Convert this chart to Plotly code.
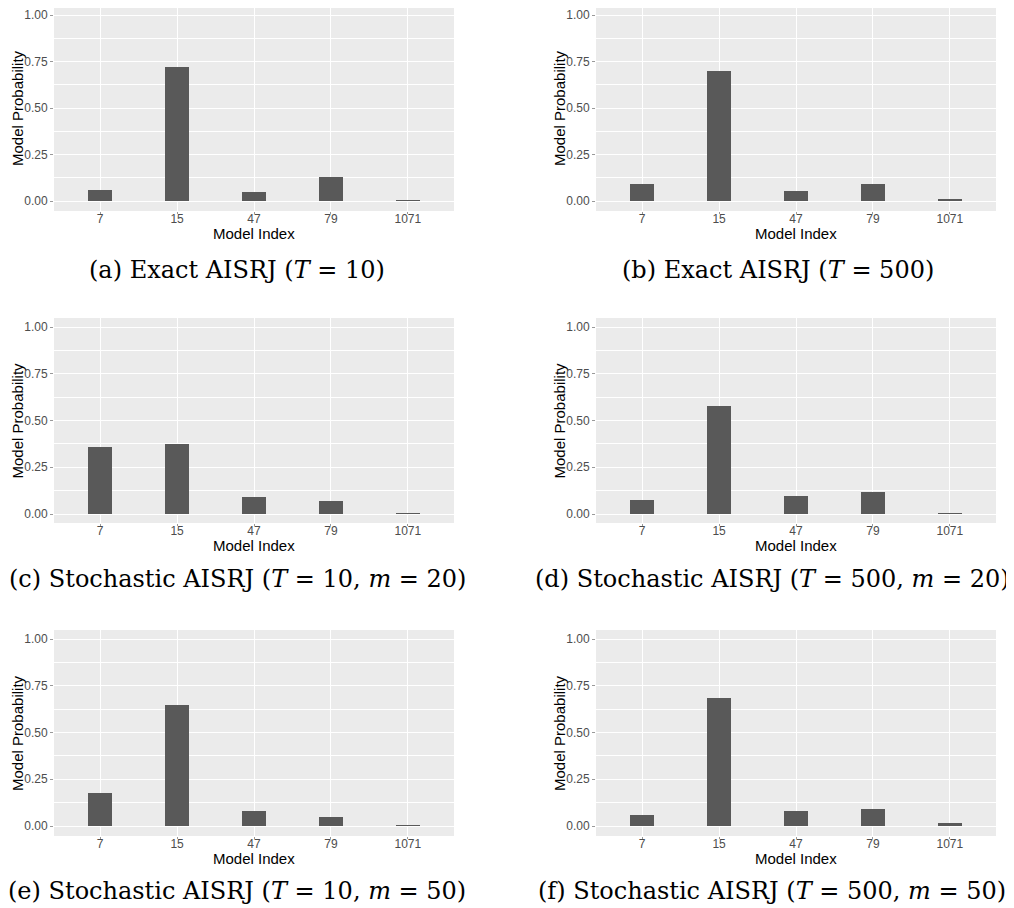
import plotly.graph_objects as go

# ---------------- data ----------------
models = ["7", "15", "47", "79", "1071"]
prob_a = [0.059, 0.720, 0.048, 0.129, 0.002]
prob_b = [0.091, 0.700, 0.055, 0.090, 0.012]
prob_c = [0.358, 0.374, 0.090, 0.068, 0.002]
prob_d = [0.073, 0.578, 0.095, 0.116, 0.002]
prob_e = [0.177, 0.648, 0.080, 0.048, 0.002]
prob_f = [0.059, 0.686, 0.080, 0.091, 0.016]
series = [prob_a, prob_b, prob_c, prob_d, prob_e, prob_f]

captions = [
    "(a) Exact AISRJ (<i>T</i> = 10)",
    "(b) Exact AISRJ (<i>T</i> = 500)",
    "(c) Stochastic AISRJ (<i>T</i> = 10, <i>m</i> = 20)",
    "(d) Stochastic AISRJ (<i>T</i> = 500, <i>m</i> = 20)",
    "(e) Stochastic AISRJ (<i>T</i> = 10, <i>m</i> = 50)",
    "(f) Stochastic AISRJ (<i>T</i> = 500, <i>m</i> = 50)",
]
x_title = "Model Index"
y_title = "Model Probability"
y_ticks = [0, 0.25, 0.5, 0.75, 1.0]
y_ticktext = ["0.00", "0.25", "0.50", "0.75", "1.00"]

# ---------------- layout geometry (screen pixels) ----------------
OFF = 8  # page body margin
W, H = 1014 - OFF, 908 - OFF
cols = [(54, 454), (596, 996)]
# (panel top, y of 1.00, y of 0.00, panel bottom)
rows = [(5, 15, 201, 211), (318, 327, 514, 523), (630, 639, 826, 836)]
caption_y = [270, 579, 891]
caption_x = [[237, 778], [237, 772], [237, 772]]

def px_x(p):
    return (p - OFF) / W

def px_y(p):
    return 1 - (p - OFF) / H

fig = go.Figure()
annotations = []
layout_axes = {}

for i, vals in enumerate(series):
    r, c = divmod(i, 2)
    n = i + 1
    xa = "x" if n == 1 else f"x{n}"
    ya = "y" if n == 1 else f"y{n}"
    fig.add_trace(go.Bar(
        x=models, y=vals, xaxis=xa, yaxis=ya,
        width=0.31, marker=dict(color="#595959", line=dict(width=0)),
        showlegend=False, hoverinfo="x+y",
    ))
    x0, x1 = cols[c]
    top, p1, p0, bot = rows[r]
    top_c = max(top, OFF)
    unit = (p0 - p1)
    yr = [-(bot - p0) / unit, 1 + (p1 - top_c) / unit]
    xkey = "xaxis" if n == 1 else f"xaxis{n}"
    ykey = "yaxis" if n == 1 else f"yaxis{n}"
    layout_axes[xkey] = dict(
        domain=[px_x(x0), px_x(x1)], anchor=ya,
        type="category", categoryorder="array", categoryarray=models,
        range=[-0.6, 4.6], showgrid=True, gridcolor="white", gridwidth=1.3,
        ticks="outside", ticklen=2, tickcolor="#999999", tickwidth=1,
        ticklabelstandoff=-5,
        tickfont=dict(family="Liberation Sans, Arial", size=12, color="#4D4D4D"),
        showline=False, zeroline=False, fixedrange=True,
    )
    layout_axes[ykey] = dict(
        domain=[px_y(bot), px_y(top_c)], anchor=xa,
        range=yr, tickvals=y_ticks, ticktext=y_ticktext,
        showgrid=True, gridcolor="white", gridwidth=1.3,
        minor=dict(dtick=0.125, tick0=0, showgrid=True, gridcolor="white",
                   gridwidth=0.6, ticks=""),
        ticks="outside", ticklen=3, tickcolor="#999999", tickwidth=1,
        tickfont=dict(family="Liberation Sans, Arial", size=12, color="#4D4D4D"),
        showline=False, zeroline=False, fixedrange=True,
    )
    # axis titles
    annotations.append(dict(
        text=x_title, xref="paper", yref="paper",
        x=px_x((x0 + x1) / 2), y=px_y(bot + 22), xanchor="center", yanchor="middle",
        showarrow=False, font=dict(family="Liberation Sans, Arial", size=15, color="black"),
    ))
    annotations.append(dict(
        text=y_title, xref="paper", yref="paper", textangle=-90,
        x=px_x(x0 - 37), y=px_y((top + bot) / 2), xanchor="center", yanchor="middle",
        showarrow=False, font=dict(family="Liberation Sans, Arial", size=15, color="black"),
    ))
    # caption
    annotations.append(dict(
        text=captions[i], xref="paper", yref="paper",
        x=px_x(caption_x[r][c]), y=px_y(caption_y[r]), xanchor="center", yanchor="middle",
        showarrow=False, font=dict(family="DejaVu Serif, serif", size=24, color="black"),
    ))

fig.update_layout(
    width=W, height=H,
    margin=dict(l=0, r=0, t=0, b=0),
    paper_bgcolor="white", plot_bgcolor="#EBEBEB",
    bargap=0, annotations=annotations,
    **layout_axes,
)

fig.write_html("out.html")
